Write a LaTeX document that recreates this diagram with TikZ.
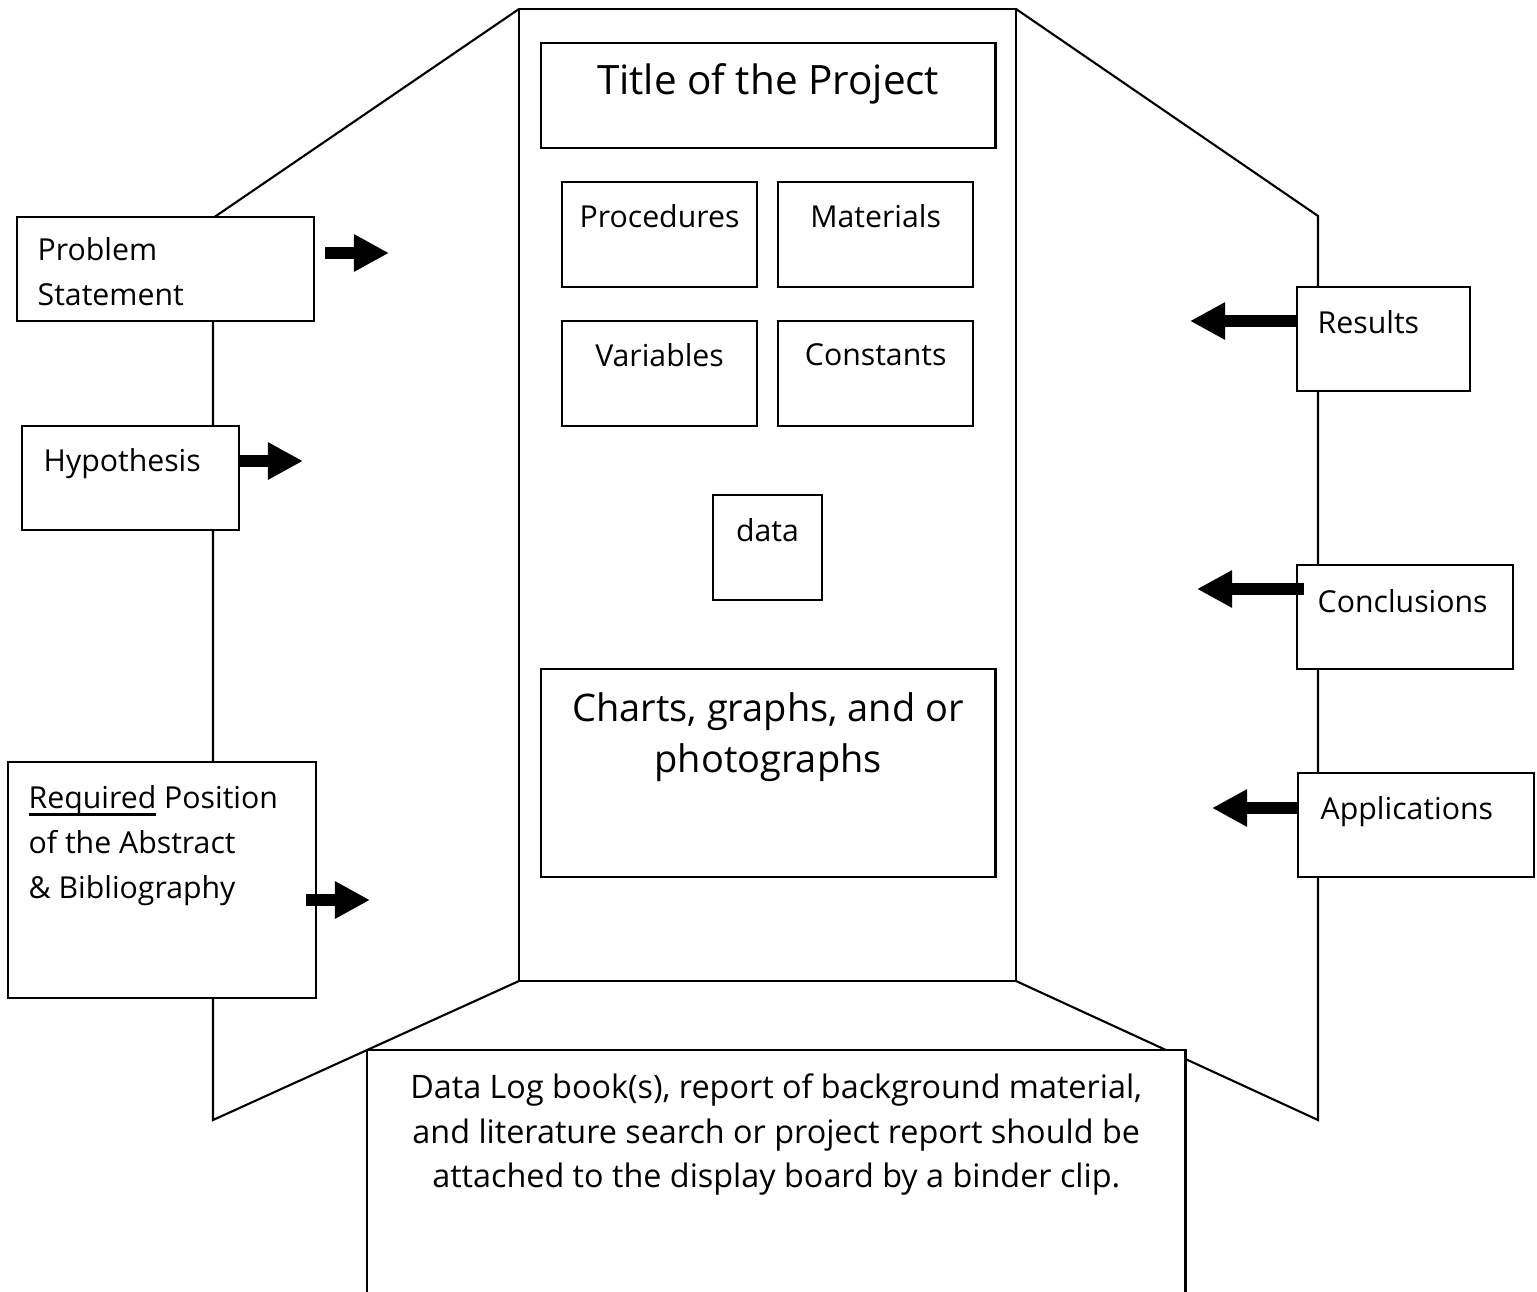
\documentclass[tikz,border=0pt]{standalone}
\usepackage{fontspec}
\setmainfont{Open Sans}
\usepackage{tikz}
\usetikzlibrary{positioning, calc, arrows.meta}
\tikzset{panel/.style={draw, line width=0.6pt}}
\tikzset{card/.style={draw, fill=white, line width=0.7pt, inner sep=0pt, outer sep=0pt, anchor=north west}}
\tikzset{txt/.style={inner sep=0pt, align=left, font=\fontsize{8.6pt}{12.7pt}\selectfont}}
\tikzset{bigtxt/.style={inner sep=0pt, align=center, font=\fontsize{10.8pt}{14.5pt}\selectfont}}
\tikzset{bigarrow/.style={line width=3.6pt, -{Triangle[length=10pt, width=10pt]}}}
\newcommand{\boldul}[1]{\setbox0\hbox{#1}\rlap{\rule[-2pt]{\wd0}{0.9pt}}\box0}

\begin{document}
\begin{tikzpicture}[x=0.01cm, y=-0.01cm]
  \clip (0,0) rectangle (1537,1291);

  % the board
  \draw[panel] (519,9) rectangle (1016,981);
  \draw[panel] (519,9) -- (213,218) -- (213,1120) -- (519,981);
  \draw[panel] (1016,9) -- (1318,216) -- (1318,1120) -- (1016,981);

  % centre panel
  \node[card, minimum width=4.54cm, minimum height=1.05cm] (title) at (541,43) {};
  \node[bigtxt, font=\fontsize{11.5pt}{14.5pt}\selectfont, below=0.2cm of title.north] (titletxt) {Title of the Project};

  \node[card, minimum width=1.95cm, minimum height=1.05cm] (proc) at (562,182) {};
  \node[card, minimum width=1.95cm, minimum height=1.05cm, right=0.21cm of proc] (mat) {};
  \node[card, minimum width=1.95cm, minimum height=1.05cm, below=0.34cm of proc] (var) {};
  \node[card, minimum width=1.95cm, minimum height=1.05cm, below=0.34cm of mat] (const) {};
  \node[txt, below=0.22cm of proc.north] (proctxt) {Procedures};
  \node[txt, below=0.22cm of mat.north] (mattxt) {Materials};
  \node[txt, below=0.22cm of var.north] (vartxt) {Variables};
  \node[txt, below=0.22cm of const.north] (consttxt) {Constants};

  \node[card, minimum width=1.09cm, minimum height=1.05cm] (data) at (713,495) {};
  \node[txt, below=0.23cm of data.north] (datatxt) {data};

  \node[card, minimum width=4.54cm, minimum height=2.08cm] (charts) at (541,669) {};
  \node[bigtxt, below=0.23cm of charts.north] (chartstxt) {Charts, graphs, and or\\photographs};

  % left wing
  \node[card, minimum width=2.97cm, minimum height=1.04cm] (problem) at (17,217) {};
  \node[txt, below right=0.2cm and 0.2cm of problem.north west] (problemtxt) {Problem\\Statement};

  \node[card, minimum width=2.17cm, minimum height=1.04cm] (hypo) at (22,426) {};
  \node[txt, below right=0.22cm and 0.21cm of hypo.north west] (hypotxt) {Hypothesis};

  \node[card, minimum width=3.08cm, minimum height=2.36cm] (abstract) at (8,762) {};
  \node[txt, below right=0.23cm and 0.2cm of abstract.north west] (abstracttxt)
    {\boldul{Required}\ Position\\of the Abstract\\\& Bibliography};

  % right wing
  \node[card, minimum width=1.73cm, minimum height=1.04cm] (results) at (1297,287) {};
  \node[txt, below right=0.23cm and 0.2cm of results.north west] (resultstxt) {Results};

  \node[card, minimum width=2.16cm, minimum height=1.04cm] (concl) at (1297,565) {};
  \node[txt, below right=0.24cm and 0.2cm of concl.north west] (concltxt) {Conclusions};

  \node[card, minimum width=2.36cm, minimum height=1.04cm] (appl) at (1298,773) {};
  \node[txt, below right=0.23cm and 0.22cm of appl.north west] (appltxt) {Applications};

  % log book box
  \node[card, minimum width=8.18cm, minimum height=2.6cm] (log) at (367,1050) {};
  \node[txt, font=\fontsize{9.2pt}{12.7pt}\selectfont, align=center, below=0.23cm of log.north] (logtxt)
    {Data Log book(s), report of background material,\\and literature search or project report should be\\attached to the display board by a binder clip.};

  % arrows
  \coordinate (problemtip) at (389,253);
  \coordinate (hypotip) at (303,461);
  \coordinate (abstracttip) at (370,900);
  \coordinate (resultstip) at (1190,321);
  \coordinate (concltip) at (1197,589);
  \coordinate (appltip) at (1212,808);
  \draw[bigarrow] ($(problem.east |- problemtip)+(11,0)$) -- (problemtip);
  \draw[bigarrow] (hypo.east |- hypotip) -- (hypotip);
  \draw[bigarrow] ($(abstract.east |- abstracttip)+(-10,0)$) -- (abstracttip);
  \draw[bigarrow] (results.west |- resultstip) -- (resultstip);
  \draw[bigarrow] ($(concl.west |- concltip)+(7,0)$) -- (concltip);
  \draw[bigarrow] (appl.west |- appltip) -- (appltip);
\end{tikzpicture}
\end{document}
